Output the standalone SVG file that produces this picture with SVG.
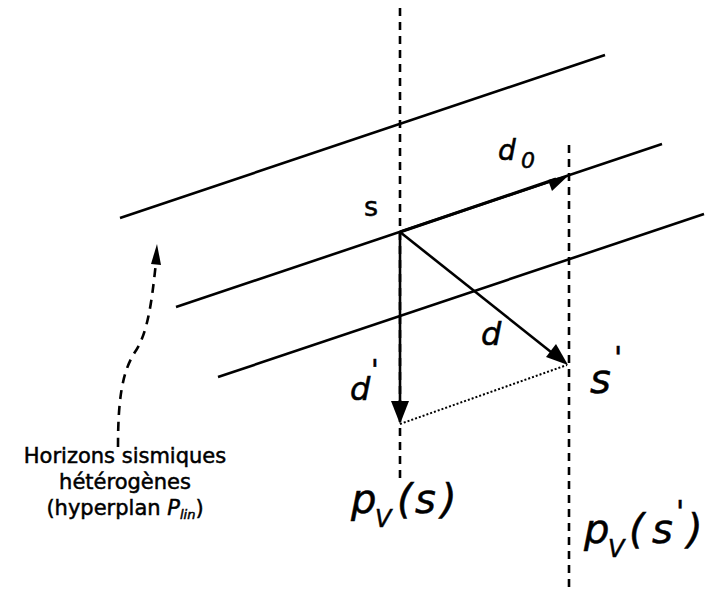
<svg xmlns="http://www.w3.org/2000/svg" width="705" height="590" viewBox="0 0 705 590">
<style>
.ln{stroke:#000;stroke-width:2.6;fill:none}
.vd{stroke:#000;stroke-width:2.6;fill:none;stroke-dasharray:8 6}
.dot{stroke:#000;stroke-width:2;fill:none;stroke-dasharray:2 2}
.cd{stroke:#000;stroke-width:2.6;fill:none;stroke-dasharray:9 7}
.t{font-family:"DejaVu Sans",Verdana,sans-serif;fill:#000;stroke:#000;stroke-width:0.5}
.it{font-style:italic}
</style>
<rect width="705" height="590" fill="#fff"/>
<g id="horizons">
<line class="ln" x1="120" y1="218" x2="605" y2="55"/>
<line class="ln" x1="176" y1="307" x2="662" y2="144"/>
<line class="ln" x1="218" y1="377" x2="704" y2="214"/>
</g>
<g id="verticals">
<line class="vd" x1="400" y1="8" x2="400" y2="480"/>
<line class="vd" x1="569" y1="145" x2="569" y2="590"/>
</g>
<g id="connectors">
<line x1="400" y1="232" x2="556" y2="179" stroke="#000" stroke-width="3"/>
<path d="M548,180 L569,175 L552,191 z" fill="#000"/>
<line x1="400" y1="232" x2="556" y2="356" stroke="#000" stroke-width="2.6"/>
<path d="M568,365 L546,357 L556,344 z" fill="#000"/>
<line x1="400" y1="232" x2="400" y2="405" stroke="#000" stroke-width="2.6"/>
<path d="M400,424 L391,401 L409,401 z" fill="#000"/>
<line class="dot" x1="400" y1="424" x2="567" y2="365"/>
<path class="cd" d="M118,447 C118,400 122,372 135,352 C148,333 152,300 156,262"/>
<path d="M157,244 L151,264 L161,265 z" fill="#000"/>
</g>
<g id="labels" class="t">
<text x="364" y="216" font-size="27">s</text>
<text x="498" y="160" font-size="28" class="it">d</text>
<text x="521" y="168" font-size="22" class="it">0</text>
<text x="481" y="345" font-size="32" class="it">d</text>
<text x="350" y="400" font-size="32" class="it">d</text>
<text x="371" y="380" font-size="28" class="it">'</text>
<text x="590" y="393" font-size="40" class="it">s</text>
<text x="614" y="368" font-size="30" class="it">'</text>
<text x="351" y="513" font-size="40" class="it">p</text>
<text x="375" y="527" font-size="24" class="it">V</text>
<text x="397" y="513" font-size="40" class="it">(</text>
<text x="415" y="513" font-size="40" class="it">s</text>
<text x="441" y="513" font-size="40" class="it">)</text>
<text x="584" y="543" font-size="40" class="it">p</text>
<text x="608" y="557" font-size="24" class="it">V</text>
<text x="629" y="543" font-size="40" class="it">(</text>
<text x="652" y="543" font-size="40" class="it">s</text>
<text x="676" y="522" font-size="30" class="it">'</text>
<text x="687" y="543" font-size="40" class="it">)</text>
<text x="125" y="463" font-size="21" text-anchor="middle">Horizons sismiques</text>
<text x="125" y="489" font-size="21" text-anchor="middle">hétérogènes</text>
<text x="125" y="515" font-size="21" text-anchor="middle">(hyperplan <tspan class="it">P</tspan><tspan class="it" font-size="13" dy="4">lin</tspan><tspan dy="-4">)</tspan></text>
</g>
</svg>
